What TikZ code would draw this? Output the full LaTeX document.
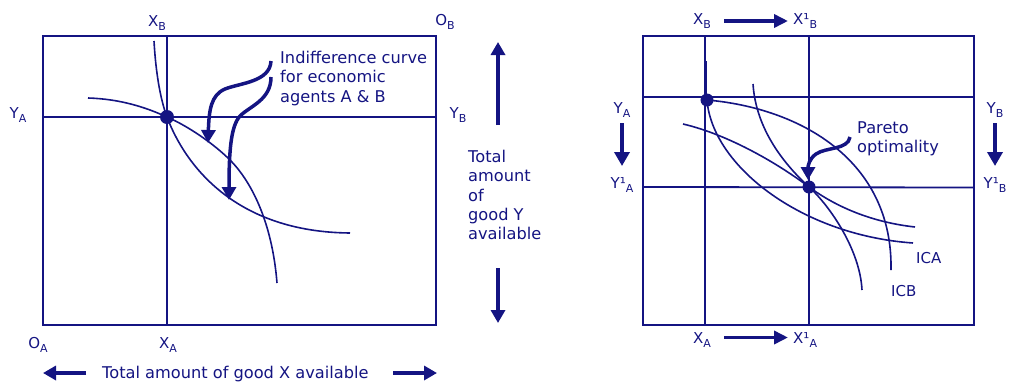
\documentclass[tikz,border=0pt]{standalone}
\usepackage{fontspec}
\setmainfont{DejaVu Sans}
\usetikzlibrary{arrows.meta}
\definecolor{nv}{RGB}{20,20,130}
\newcommand\lsb[1]{\raisebox{-4pt}{\fontsize{11}{11}\selectfont #1}}
\begin{document}
\begin{tikzpicture}[x=1pt,y=-1pt,
  frame/.style={draw=nv, line width=2pt},
  gridln/.style={draw=nv, line width=1.8pt},
  curve/.style={draw=nv, line width=1.6pt},
  stub/.style={draw=nv, line width=2.6pt},
  bigarrow/.style={draw=nv, line width=3.5pt, -{Triangle[length=13pt,width=14pt]}},
  lab/.style={text=nv, font=\fontsize{15}{15}\selectfont, inner sep=0pt},
  txt/.style={text=nv, font=\fontsize{16.2}{19.3}\selectfont, inner sep=0pt, align=left},
  dot/.style={circle, fill=nv, inner sep=0pt, minimum size=#1},
  dot/.default=14pt
]
\useasboundingbox (0,0) rectangle (1019,386);

% ---------- left panel ----------
\draw[frame] (43,36) rectangle (436,325);
\draw[gridln] (167,36) -- (167,325);
\draw[gridln] (43,117) -- (436,117);

\draw[curve] (154,41) .. controls (156,76) and (161,101) .. (167,117)
                      .. controls (185,165) and (235,232) .. (350,233);
\draw[curve] (88,98) .. controls (120,99) and (145,107) .. (167,117)
                     .. controls (190,127) and (215,145) .. (230,160)
                     .. controls (250,180) and (272,220) .. (277,283);

\node[dot] (e) at (167,117) {};

\coordinate (a1s) at (271,61);
\coordinate (a1e) at (208,143);
\coordinate (a2s) at (271,77);
\coordinate (a2e) at (229,200);
\draw[bigarrow] (a1s) .. controls (270,82) and (240,83) .. (225,89) .. controls (211,95) and (209,110) .. (a1e);
\draw[bigarrow] (a2s) .. controls (271,100) and (250,106) .. (240,116) .. controls (231,126) and (229,150) .. (a2e);

\node[txt, anchor=north west] (ind) at (280,51) {Indifference curve\\for economic\\agents A \& B};

\node[lab, anchor=base] (xb) at (157,26) {X\lsb{B}};
\node[lab, anchor=base] (ob) at (445,25) {O\lsb{B}};
\node[lab, anchor=base] (ya) at (18,118) {Y\lsb{A}};
\node[lab, anchor=base] (yb) at (458,118) {Y\lsb{B}};
\node[lab, anchor=base] (oa) at (38,348) {O\lsb{A}};
\node[lab, anchor=base] (xa) at (168,348) {X\lsb{A}};

\node[txt, anchor=base west] (tx) at (102,378) {Total amount of good X available};
\coordinate (lx1) at (86,373); \coordinate (lx2) at (43,373);
\coordinate (rx1) at (393,373); \coordinate (rx2) at (437,373);
\draw[bigarrow] (lx1) -- (lx2);
\draw[bigarrow] (rx1) -- (rx2);

\node[txt, anchor=north west] (ty) at (468,150) {Total\\amount\\of\\good Y\\available};
\coordinate (u1) at (498,125); \coordinate (u2) at (498,42);
\coordinate (d1) at (498,268); \coordinate (d2) at (498,323);
\draw[bigarrow] (u1) -- (u2);
\draw[bigarrow] (d1) -- (d2);

% ---------- right panel ----------
\draw[frame] (643,36) rectangle (974,325);
\draw[gridln] (705,36) -- (705,325);
\draw[gridln] (809,36) -- (809,325);
\draw[gridln] (643,97) -- (974,97);
\draw[gridln] (643,187) -- (974,187.5);

\draw[stub] (706,61) -- (706,100);
\draw[stub] (674,97) -- (707,97);

% C1
\draw[curve] (707,100) .. controls (800,108) and (893,160) .. (891,270);
% C2
\draw[curve] (707,100) .. controls (712,165) and (800,235) .. (913,243);
% C3
\draw[curve] (683,124) .. controls (730,135) and (780,165) .. (809,187)
                       .. controls (835,206) and (870,222) .. (915,227);
% C4
\draw[curve] (753,84) .. controls (756,130) and (785,165) .. (809,187)
                      .. controls (830,206) and (860,250) .. (862,290);

\node[dot=13pt] (p1) at (707,100) {};
\node[dot=13pt] (p2) at (809,187) {};

\coordinate (ps) at (850,137);
\coordinate (pe) at (808,180);
\draw[bigarrow] (ps) .. controls (848,150) and (826,147) .. (816,154) .. controls (809,159) and (808,166) .. (pe);
\node[txt, anchor=north west, font=\fontsize{16.2}{19}\selectfont] (par) at (857,121.3) {Pareto\\optimality};

\node[lab, anchor=base] (rxb) at (702,24) {X\lsb{B}};
\node[lab, anchor=base west] (rxb1) at (793,24) {X¹\lsb{B}};
\node[lab, anchor=base] (rxa) at (702,343) {X\lsb{A}};
\node[lab, anchor=base west] (rxa1) at (793,343) {X¹\lsb{A}};
\draw[bigarrow, -{Triangle[length=14pt,width=13pt]}] (724,21) -- (788,21);
\draw[bigarrow, -{Triangle[length=14pt,width=13pt]}] (724,337.5) -- (788,337.5);

\node[lab, anchor=base] (rya) at (622,113) {Y\lsb{A}};
\node[lab, anchor=base] (rya1) at (622,188) {Y¹\lsb{A}};
\node[lab, anchor=base] (ryb) at (995,113) {Y\lsb{B}};
\node[lab, anchor=base] (ryb1) at (995,188) {Y¹\lsb{B}};
\draw[bigarrow, -{Triangle[length=14pt,width=15pt]}] (622,123) -- (622,166);
\draw[bigarrow, -{Triangle[length=14pt,width=15pt]}] (995,123) -- (995,166);

\node[lab, anchor=base west] (ica) at (916,263) {ICA};
\node[lab, anchor=base west] (icb) at (891,296) {ICB};
\end{tikzpicture}
\end{document}
